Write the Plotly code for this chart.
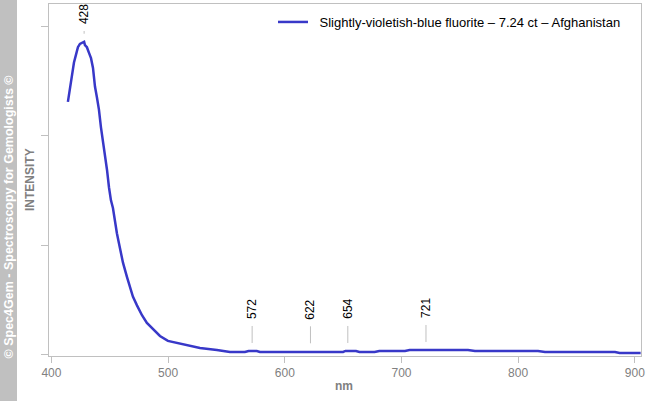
import numpy as np
import plotly.graph_objects as go

# ---------------- data ----------------
wavelength_nm = [414.1, 415.9, 417.6, 419.3, 421.0, 422.7, 424.4, 426.5, 428.0, 428.7, 430.4,
                 432.1, 433.9, 435.6, 436.4, 437.3, 439.0, 440.7, 442.4, 444.1, 445.9,
                 447.6, 449.3, 451.0, 452.7, 454.4, 456.1, 457.8, 459.6, 461.3, 464.7,
                 467.3, 469.8, 473.3, 477.6, 481.8, 487.0, 493.0, 499.8, 507.6, 517.0,
                 527.3, 541.8, 553.0, 565.8, 569.0, 572.5, 576.0, 578.7, 613.0, 620.5,
                 622.0, 623.5, 630.0, 650.0, 652.0, 655.0, 661.0, 664.0, 677.0, 681.0,
                 703.0, 707.0, 722.0, 757.0, 763.0, 817.0, 823.0, 883.0, 887.0, 905.0]
intensity = [2.31, 2.44, 2.54, 2.67, 2.74, 2.81, 2.84, 2.85, 2.86, 2.83, 2.81,
             2.76, 2.71, 2.62, 2.54, 2.45, 2.35, 2.24, 2.08, 1.96, 1.81,
             1.69, 1.53, 1.41, 1.34, 1.20, 1.11, 1.02, 0.93, 0.84, 0.71,
             0.62, 0.53, 0.45, 0.36, 0.29, 0.23, 0.17, 0.125, 0.106, 0.079,
             0.060, 0.042, 0.024, 0.024, 0.033, 0.033, 0.033, 0.024, 0.024, 0.024,
             0.030, 0.024, 0.024, 0.024, 0.033, 0.033, 0.033, 0.024, 0.024, 0.033,
             0.033, 0.042, 0.042, 0.042, 0.033, 0.033, 0.024, 0.024, 0.015, 0.015]
peak_nm = [428, 572, 622, 654, 721]
peak_labels = ["428", "572", "622", "654", "721"]
x_ticks = [400, 500, 600, 700, 800, 900]
y_ticks = [0, 1, 2, 3]
series_name = "Slightly-violetish-blue fluorite – 7.24 ct – Afghanistan"
x_title = "nm"
y_title = "INTENSITY"
copyright_text = "© Spec4Gem - Spectroscopy for Gemologists ©"

# ---------------- layout geometry ----------------
W, H = 646, 401
ML, MR, MT, MB = 49, 5, 4, 45
PW, PH = W - ML - MR, H - MT - MB
XR = [397.9, 905.3]
YR = [-0.013, 3.205]
ppu = PH / (YR[1] - YR[0])

FONT = "Liberation Sans, Arial, sans-serif"
GRAY = "#c0c0c0"
LINE_COLOR = "#3838c8"

fig = go.Figure()
fig.add_trace(go.Scatter(
    x=wavelength_nm, y=intensity, mode="lines", name="\u2002" + series_name,
    line=dict(color=LINE_COLOR, width=2.5),
))

annotations = []
shapes = []

# peak labels with small gray leader lines
peak_vals = np.interp(peak_nm, wavelength_nm, intensity)
for p, v, lab in zip(peak_nm, peak_vals, peak_labels):
    room = (YR[1] - v) * ppu
    shift = min(30.0, room - 22.0)
    annotations.append(dict(
        x=p, y=v, xref="x", yref="y", text=lab, showarrow=False,
        textangle=-90, yanchor="bottom", xanchor="center", yshift=shift,
        font=dict(family=FONT, size=12, color="#000000"),
    ))
    shapes.append(dict(
        type="line", xref="x", yref="y", ysizemode="pixel", yanchor=v,
        x0=p, x1=p, y0=8, y1=shift - 5,
        line=dict(color="#c0c0c0", width=1),
    ))

# copyright band on the left
shapes.append(dict(
    type="rect", xref="paper", yref="paper",
    x0=-ML / PW, x1=(17 - ML) / PW, y0=-MB / PH, y1=1 + MT / PH,
    fillcolor="#c0c0c0", line=dict(width=0), layer="below",
))
annotations.append(dict(
    x=(8.5 - ML) / PW, y=1 - (217 - MT) / PH, xref="paper", yref="paper",
    text="<b>" + copyright_text + "</b>", showarrow=False, textangle=-90,
    xanchor="center", yanchor="middle",
    font=dict(family=FONT, size=12.5, color="#ffffff"),
))
# axis titles
annotations.append(dict(
    x=(30 - ML) / PW, y=1 - (180 - MT) / PH, xref="paper", yref="paper",
    text="<b>" + y_title + "</b>", showarrow=False, textangle=-90,
    xanchor="center", yanchor="middle",
    font=dict(family=FONT, size=12, color="#808080"),
))
annotations.append(dict(
    x=(344 - ML) / PW, y=-(386 - (H - MB)) / PH, xref="paper", yref="paper",
    text="<b>" + x_title + "</b>", showarrow=False,
    xanchor="center", yanchor="middle",
    font=dict(family=FONT, size=12, color="#808080"),
))

fig.update_layout(
    width=W, height=H,
    margin=dict(l=ML, r=MR, t=MT, b=MB, pad=0, autoexpand=False),
    paper_bgcolor="white", plot_bgcolor="white",
    font=dict(family=FONT, size=12, color="#808080"),
    showlegend=True,
    legend=dict(
        x=(273 - ML) / PW, y=1 - 3 / PH, xanchor="left", yanchor="top",
        bgcolor="rgba(0,0,0,0)", borderwidth=0,
        font=dict(family=FONT, size=13, color="#000000"),
    ),
    xaxis=dict(
        range=XR, tickvals=x_ticks, ticktext=[str(t) for t in x_ticks],
        automargin=False,
        showgrid=False, zeroline=False, showline=True, mirror=True,
        linecolor=GRAY, linewidth=1, ticks="outside", ticklen=6, tickcolor=GRAY,
        tickfont=dict(family=FONT, size=12, color="#808080"),
    ),
    yaxis=dict(
        range=YR, tickvals=y_ticks, showticklabels=False, automargin=False,
        showgrid=False, zeroline=False, showline=True, mirror=True,
        linecolor=GRAY, linewidth=1, ticks="outside", ticklen=7, tickcolor=GRAY,
    ),
    annotations=annotations, shapes=shapes,
)

fig.write_html(
    "out.html",
    config={"displayModeBar": False},
    post_script="document.body.style.margin='0';document.body.style.padding='0';",
)
